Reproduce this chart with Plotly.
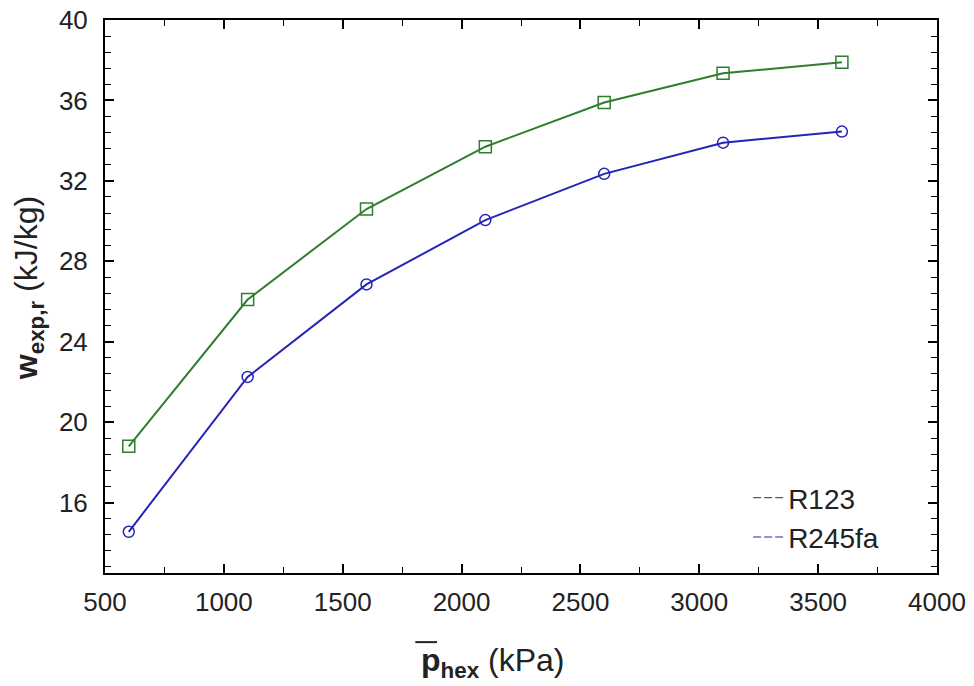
import plotly.graph_objects as go

pressure_kpa = [600, 1100, 1600, 2100, 2600, 3100, 3600]
w_r123 = [18.8, 26.1, 30.6, 33.7, 35.9, 37.35, 37.9]
w_r245fa = [14.55, 22.25, 26.85, 30.05, 32.35, 33.9, 34.45]
series_names = ["R123", "R245fa"]
x_ticks = [500, 1000, 1500, 2000, 2500, 3000, 3500, 4000]
y_ticks = [16, 20, 24, 28, 32, 36, 40]

green = "#2f7d2f"
blue = "#2424b8"
font_family = "Liberation Sans, Arial, sans-serif"
text_color = "#222222"

fig = go.Figure()
fig.add_trace(go.Scatter(
    x=pressure_kpa, y=w_r123, mode="lines+markers", showlegend=False,
    line=dict(color=green, width=2),
    marker=dict(symbol="square-open", size=12, color=green, line=dict(width=1.5)),
))
fig.add_trace(go.Scatter(
    x=pressure_kpa, y=w_r245fa, mode="lines+markers", showlegend=False,
    line=dict(color=blue, width=2),
    marker=dict(symbol="circle-open", size=11, color=blue, line=dict(width=1.5)),
))
# legend entries (dashed samples, no markers)
for name, col in zip(series_names, [green, blue]):
    fig.add_trace(go.Scatter(
        x=[None], y=[None], mode="lines", name=name,
        line=dict(color=col, width=1.2, dash="8px,3px"),
    ))

axis_common = dict(
    showgrid=False, zeroline=False, showline=True, linecolor="black", linewidth=2,
    mirror="ticks", ticks="inside", ticklen=9, tickwidth=1.5, tickcolor="black",
    tickfont=dict(family=font_family, size=26, color=text_color),
    ticklabeloverflow="allow", automargin=False,
)
fig.update_xaxes(
    range=[500, 4000], tickvals=x_ticks, ticktext=[str(v) for v in x_ticks],
    minor=dict(ticks="inside", ticklen=6, dtick=250, tick0=500, tickcolor="black", tickwidth=1.2),
    ticklabelstandoff=5,
    **axis_common,
)
fig.update_yaxes(
    range=[12.5, 40], tickvals=y_ticks, ticktext=[str(v) for v in y_ticks],
    minor=dict(ticks="inside", ticklen=6, dtick=0.8, tick0=0, tickcolor="black", tickwidth=1.2),
    ticklabelstandoff=10,
    **axis_common,
)

# y-axis title
fig.add_annotation(
    xref="paper", yref="paper", x=0, y=0.515, xanchor="center", yanchor="middle",
    xshift=-77, textangle=-90,
    text="<b>w<sub>exp,r</sub></b> (kJ/kg)", showarrow=False,
    font=dict(family=font_family, size=32, color=text_color),
)
# x-axis title
fig.add_annotation(
    xref="paper", yref="paper", x=0.466, y=0, xanchor="center", yanchor="middle",
    yshift=-89,
    text="<b>p<sub>hex</sub></b> (kPa)", showarrow=False,
    font=dict(family=font_family, size=32, color=text_color),
)
# overline on p
fig.add_shape(
    type="line", xref="paper", yref="paper",
    x0=0.373, x1=0.399, y0=-0.125, y1=-0.125,
    line=dict(color=text_color, width=2),
)

fig.update_layout(
    width=974, height=686,
    margin=dict(l=105, r=37, t=20, b=113, autoexpand=False),
    paper_bgcolor="white", plot_bgcolor="white",
    legend=dict(
        x=0.773, y=0.181, xanchor="left", yanchor="top",
        bgcolor="rgba(0,0,0,0)", font=dict(family=font_family, size=28, color=text_color),
        tracegroupgap=0, itemwidth=30,
    ),
)

fig.write_html(
    "out.html",
    config={"displayModeBar": False},
    post_script="document.body.style.margin='0';",
)
